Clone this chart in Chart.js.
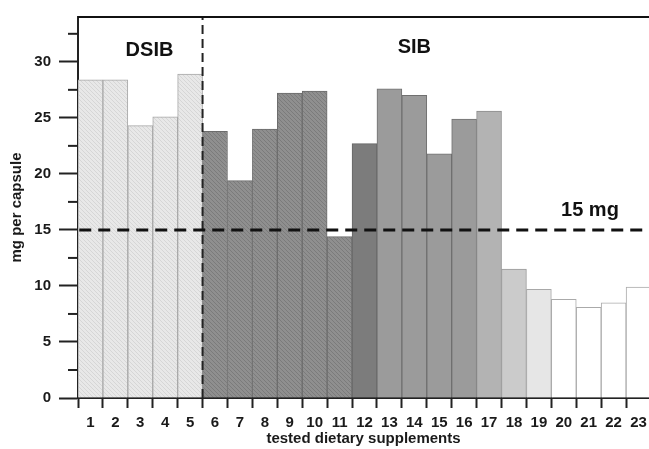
<!DOCTYPE html>
<html>
<head>
<meta charset="utf-8">
<script src="https://cdn.jsdelivr.net/npm/chart.js@4"></script>
<style>
  html, body { margin: 0; padding: 0; background: #fff; }
  #wrap { width: 649px; height: 449px; }
</style>
</head>
<body>
<div id="wrap"><canvas id="myChart"></canvas></div>
<script>
'use strict';

// values
const supplements = [1, 2, 3, 4, 5, 6, 7, 8, 9, 10, 11, 12, 13, 14, 15, 16, 17, 18, 19, 20, 21, 22, 23];
const capsuleMg = [28.4, 28.4, 24.3, 25.1, 28.9, 23.8, 19.4, 24.0, 27.2, 27.4, 14.4, 22.7,
                   27.6, 27.0, 21.8, 24.9, 25.6, 11.5, 9.7, 8.8, 8.1, 8.5, 9.9];
const yTicks = [0, 2.5, 5, 7.5, 10, 12.5, 15, 17.5, 20, 22.5, 25, 27.5, 30, 32.5];
const limitMg = 15;
const groupSplit = 5.5;
const groupLabels = [{text: 'DSIB', x: 3.37, y: 31.0}, {text: 'SIB', x: 14, y: 31.3}];
const limitLabel = {text: '15 mg', x: 21.05, y: 16.7};

Chart.defaults.font.family = "'Liberation Sans', Arial, sans-serif";
Chart.defaults.color = '#1a1a1a';

function hatch(base, ink) {
  const c = document.createElement('canvas');
  c.width = c.height = 4;
  const g = c.getContext('2d');
  g.fillStyle = base;
  g.fillRect(0, 0, 4, 4);
  g.fillStyle = ink;
  for (let i = 0; i < 4; i++) g.fillRect(i, i, 1, 1);
  return g.createPattern(c, 'repeat');
}

const light = hatch('#e8e8e8', '#d6d6d6');
const dark = hatch('#8f8f8f', '#7b7b7b');
const fills = [light, light, light, light, light, dark, dark, dark, dark, dark, dark,
  '#7c7c7c', '#9b9b9b', '#9b9b9b', '#9b9b9b', '#9b9b9b', '#b3b3b3', '#cbcbcb', '#e6e6e6',
  '#ffffff', '#ffffff', '#ffffff', '#ffffff'];
const edges = ['#a9a9a9', '#a9a9a9', '#a9a9a9', '#a9a9a9', '#a9a9a9', '#6c6c6c', '#6c6c6c',
  '#6c6c6c', '#6c6c6c', '#6c6c6c', '#6c6c6c', '#666666', '#707070', '#707070', '#707070',
  '#707070', '#8c8c8c', '#9a9a9a', '#a8a8a8', '#aaaaaa', '#aaaaaa', '#aaaaaa', '#aaaaaa'];

const extras = {
  id: 'extras',
  afterDraw(chart) {
    const {ctx, chartArea, scales} = chart;
    const x = scales.x, y = scales.y;
    ctx.save();
    // top frame line
    ctx.strokeStyle = '#111';
    ctx.lineWidth = 2;
    ctx.beginPath();
    ctx.moveTo(chartArea.left, chartArea.top);
    ctx.lineTo(chart.width, chartArea.top);
    ctx.stroke();
    // minor y ticks
    ctx.strokeStyle = '#222';
    for (const v of yTicks) {
      if (v % 5 === 0) continue;
      const py = y.getPixelForValue(v);
      ctx.beginPath();
      ctx.moveTo(chartArea.left - 10, py);
      ctx.lineTo(chartArea.left, py);
      ctx.stroke();
    }
    // text labels
    ctx.fillStyle = '#111';
    ctx.textAlign = 'center';
    ctx.textBaseline = 'middle';
    ctx.font = "bold 20px 'Liberation Sans', Arial, sans-serif";
    for (const g of groupLabels) {
      ctx.fillText(g.text, x.getPixelForValue(g.x), y.getPixelForValue(g.y));
    }
    ctx.fillText(limitLabel.text, x.getPixelForValue(limitLabel.x), y.getPixelForValue(limitLabel.y));
    ctx.restore();
  }
};

new Chart(document.querySelector('#myChart'), {
  type: 'bar',
  data: {
    datasets: [
      {
        type: 'line',
        data: [{x: 0.55, y: limitMg}, {x: 23.26, y: limitMg}],
        borderColor: '#111',
        borderWidth: 3,
        borderDash: [12, 7],
        pointRadius: 0,
        order: 0,
      },
      {
        type: 'line',
        data: [{x: groupSplit, y: 0}, {x: groupSplit, y: 34}],
        borderColor: '#222',
        borderWidth: 2,
        borderDash: [9, 5],
        pointRadius: 0,
        order: 0,
      },
      {
        label: 'mg per capsule',
        data: supplements.map((s, i) => ({x: s, y: capsuleMg[i]})),
        backgroundColor: fills,
        borderColor: edges,
        borderWidth: 1,
        barPercentage: 1,
        categoryPercentage: 1,
        order: 2,
      },
    ],
  },
  options: {
    responsive: true,
    maintainAspectRatio: false,
    animation: false,
    layout: {padding: {top: 15, left: 0, right: 0, bottom: 0}},
    plugins: {legend: {display: false}, tooltip: {enabled: false}},
    scales: {
      x: {
        type: 'linear',
        offset: false,
        min: 0.5,
        max: 23.42,
        afterBuildTicks: (s) => { s.ticks = supplements.map((v) => ({value: v})); },
        afterFit: (s) => { s.height = 51; s.paddingRight = 0; s.paddingLeft = 0; },
        ticks: {
          autoSkip: false,
          maxRotation: 0,
          padding: 6,
          font: {size: 15, weight: 'bold'},
          callback: (v) => String(v),
        },
        grid: {drawOnChartArea: false, tickLength: 10, tickWidth: 2, tickColor: '#222'},
        border: {color: '#222', width: 2},
        title: {
          display: true,
          text: 'tested dietary supplements',
          font: {size: 15, weight: 'bold'},
          padding: {top: 0, bottom: 1},
        },
      },
      y: {
        min: 0,
        max: 34,
        afterBuildTicks: (s) => { s.ticks = yTicks.map((v) => ({value: v})); },
        afterFit: (s) => { s.width = 78; },
        ticks: {
          padding: 8,
          font: {size: 15, weight: 'bold'},
          callback: (v) => (v % 5 === 0 ? String(v) : ''),
        },
        grid: {
          drawOnChartArea: false,
          tickLength: 19,
          tickWidth: 2,
          tickColor: (ctx) => (ctx.tick && ctx.tick.value % 5 === 0 ? '#222' : 'rgba(0,0,0,0)'),
        },
        border: {color: '#222', width: 2},
        title: {
          display: true,
          text: 'mg per capsule',
          font: {size: 15, weight: 'bold'},
          padding: {top: 8, bottom: 0},
        },
      },
    },
  },
  plugins: [extras],
});
</script>
</body>
</html>
